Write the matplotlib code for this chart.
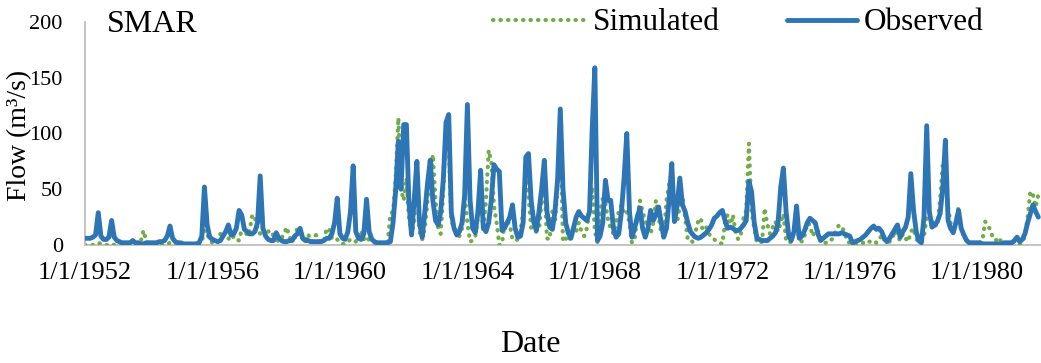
import matplotlib
matplotlib.use("Agg")
import matplotlib.pyplot as plt
import matplotlib.dates as mdates
import pandas as pd
from matplotlib.ticker import FuncFormatter

plt.rcParams["font.family"] = ["Liberation Serif", "DejaVu Serif"]

# Monthly flow (m3/s), one row per year, January to December
start_month = "1952-01-01"
observed = [
    [6, 6, 6, 7, 9, 29, 8, 5, 5, 7, 22, 7],            # 1952
    [4, 3, 2, 2, 2, 2, 4, 2, 2, 1, 1, 2],              # 1953
    [2, 2, 2, 2, 3, 3, 4, 8, 17, 6, 3, 2],             # 1954
    [2, 1, 1, 1, 1, 1, 1, 2, 8, 52, 18, 7],            # 1955
    [5, 4, 3, 4, 8, 12, 18, 9, 10, 15, 31, 27],        # 1956
    [14, 12, 10, 10, 12, 20, 62, 15, 8, 5, 4, 4],      # 1957
    [11, 6, 4, 3, 3, 4, 4, 8, 10, 15, 6, 4],           # 1958
    [4, 3, 3, 3, 3, 3, 4, 6, 6, 10, 20, 42],           # 1959
    [10, 6, 5, 12, 30, 71, 12, 6, 5, 10, 41, 12],      # 1960
    [5, 3, 2, 2, 2, 2, 2, 3, 20, 49, 93, 50],          # 1961
    [108, 108, 40, 9, 40, 75, 20, 7, 30, 55, 76, 40],  # 1962
    [22, 18, 30, 60, 110, 117, 29, 15, 9, 12, 20, 45], # 1963
    [126, 40, 15, 11, 30, 67, 16, 12, 20, 40, 72, 68], # 1964
    [66, 13, 15, 20, 25, 36, 15, 7, 8, 20, 79, 82],    # 1965
    [40, 20, 13, 30, 50, 76, 30, 16, 14, 30, 60, 122], # 1966
    [50, 20, 11, 6, 15, 25, 30, 26, 24, 22, 30, 103],  # 1967
    [159, 4, 8, 20, 58, 40, 40, 15, 7, 10, 30, 60],    # 1968
    [100, 30, 7, 15, 25, 33, 15, 7, 15, 31, 22, 27],   # 1969
    [34, 20, 7, 15, 40, 73, 21, 35, 60, 36, 30, 20],   # 1970
    [12, 9, 7, 6, 7, 9, 11, 14, 18, 24, 26, 29],       # 1971
    [31, 22, 15, 16, 15, 13, 13, 15, 18, 22, 57, 48],  # 1972
    [20, 6, 5, 4, 4, 4, 6, 8, 11, 20, 52, 69],         # 1973
    [30, 8, 4, 12, 35, 6, 8, 13, 20, 24, 22, 20],      # 1974
    [10, 4, 6, 8, 10, 10, 10, 10, 10, 11, 10, 9],      # 1975
    [8, 2, 3, 4, 5, 7, 9, 12, 15, 17, 14, 15],         # 1976
    [12, 6, 3, 6, 10, 14, 18, 7, 12, 16, 25, 64],      # 1977
    [31, 12, 4, 2, 25, 107, 30, 16, 18, 21, 28, 50],   # 1978
    [94, 22, 15, 11, 20, 31, 15, 9, 4, 2, 2, 2],       # 1979
    [2, 2, 1, 1, 1, 1, 1, 1, 1, 1, 2, 2],              # 1980
    [2, 2, 4, 7, 3, 5, 10, 20, 28, 36, 30, 25],        # 1981
]
simulated = [
    [0, 0, 0, 0, 1, 2, 1, 0, 0, 0, 1, 0],              # 1952
    [0, 0, 0, 0, 0, 0, 0, 0, 1, 3, 13, 4],             # 1953
    [1, 0, 0, 0, 0, 0, 1, 1, 2, 1, 0, 0],              # 1954
    [0, 0, 0, 0, 0, 0, 0, 1, 3, 13, 10, 4],            # 1955
    [2, 1, 3, 10, 13, 12, 6, 4, 8, 5, 4, 14],          # 1956
    [16, 8, 12, 27, 25, 14, 10, 16, 13, 12, 13, 8],    # 1957
    [5, 3, 6, 10, 16, 7, 4, 6, 16, 12, 5, 3],          # 1958
    [10, 4, 3, 9, 5, 2, 3, 15, 14, 6, 4, 5],           # 1959
    [2, 1, 1, 3, 5, 5, 3, 6, 13, 5, 8, 4],             # 1960
    [3, 2, 3, 2, 1, 1, 2, 28, 30, 60, 114, 50],        # 1961
    [40, 60, 25, 10, 20, 60, 12, 5, 15, 40, 60, 81],   # 1962
    [40, 15, 10, 50, 105, 90, 20, 18, 10, 8, 15, 45],  # 1963
    [20, 3, 4, 8, 25, 45, 12, 40, 85, 75, 35, 20],     # 1964
    [0, 1, 20, 22, 18, 5, 4, 5, 12, 30, 60, 45],       # 1965
    [15, 12, 12, 14, 40, 55, 6, 5, 30, 20, 55, 105],   # 1966
    [3, 6, 3, 8, 18, 12, 20, 12, 8, 15, 30, 52],       # 1967
    [12, 2, 30, 42, 38, 22, 15, 10, 20, 30, 36, 28],   # 1968
    [30, 20, 2, 5, 25, 40, 30, 22, 15, 10, 20, 40],    # 1969
    [25, 10, 8, 40, 55, 50, 30, 20, 35, 45, 25, 5],    # 1970
    [5, 2, 12, 22, 24, 6, 16, 10, 7, 5, 3, 2],         # 1971
    [1, 20, 27, 15, 27, 12, 5, 10, 25, 31, 91, 30],    # 1972
    [15, 2, 2, 3, 33, 18, 10, 16, 21, 12, 20, 28],     # 1973
    [4, 2, 3, 13, 15, 6, 3, 8, 20, 18, 8, 13],         # 1974
    [13, 6, 2, 2, 2, 4, 8, 14, 18, 16, 12, 3],         # 1975
    [2, 1, 1, 0, 1, 2, 1, 3, 3, 4, 2, 4],              # 1976
    [9, 4, 2, 3, 5, 13, 8, 4, 10, 6, 3, 12],           # 1977
    [15, 6, 2, 3, 8, 25, 28, 22, 16, 20, 40, 72],      # 1978
    [60, 34, 20, 13, 20, 34, 15, 8, 5, 2, 0, 1],       # 1979
    [1, 2, 4, 21, 18, 13, 6, 4, 7, 3, 2, 1],           # 1980
    [1, 2, 3, 1, 0, 2, 8, 25, 48, 45, 34, 45],         # 1981
]
y_ticks = [0, 50, 100, 150, 200]
station = "SMAR"

obs_flat = [v for row in observed for v in row]
sim_flat = [v for row in simulated for v in row]
dates = pd.date_range(start_month, periods=len(obs_flat), freq="MS")

W, H = 1041, 363
fig = plt.figure(figsize=(W / 100, H / 100), dpi=100)
ax = fig.add_axes([85 / W, 1 - 245 / H, (W - 85) / W, (245 - 22) / H])

blue = "#2E75B6"
green = "#70AD47"

sim_line, = ax.plot(dates, sim_flat, color=green, lw=3.0,
                    linestyle=(0, (0.1, 1.7)), dash_capstyle="round",
                    label="Simulated", zorder=2)
obs_line, = ax.plot(dates, obs_flat, color=blue, lw=3.5,
                    solid_joinstyle="round", solid_capstyle="round",
                    label="Observed", zorder=3)

ax.set_ylim(y_ticks[0], y_ticks[-1])
ax.set_yticks(y_ticks)
ax.set_xlim(pd.Timestamp("1952-01-01"), pd.Timestamp("1982-01-01"))
ax.xaxis.set_major_locator(mdates.YearLocator(4))


def fmt_date(x, pos):
    d = mdates.num2date(x)
    return f"{d.month}/{d.day}/{d.year}"


ax.xaxis.set_major_formatter(FuncFormatter(fmt_date))

for side in ("top", "right"):
    ax.spines[side].set_visible(False)
for side in ("left", "bottom"):
    ax.spines[side].set_color("#BFBFBF")
    ax.spines[side].set_linewidth(1.3)
ax.spines["bottom"].set_zorder(1)

ax.tick_params(axis="y", length=0, pad=16, labelsize=16)
ax.tick_params(axis="x", length=0, pad=12, labelsize=19)

fig.text(20 / W, 1 - 135 / H, "Flow (m³/s)", rotation=90,
         ha="center", va="center", fontsize=20)
fig.text(530 / W, 1 - 345 / H, "Date", ha="center", va="center", fontsize=23)
fig.text(107 / W, 1 - 24 / H, station, ha="left", va="center", fontsize=23)

leg1 = fig.legend(handles=[sim_line], loc="center left",
                  bbox_to_anchor=(493 / W, 1 - 23 / H), frameon=False,
                  fontsize=22.5, handlelength=3.0, handletextpad=0.2,
                  borderpad=0, borderaxespad=0)
leg2 = fig.legend(handles=[obs_line], loc="center left",
                  bbox_to_anchor=(787 / W, 1 - 23 / H), frameon=False,
                  fontsize=22.5, handlelength=2.25, handletextpad=0.2,
                  borderpad=0, borderaxespad=0)

fig.savefig("out.png", dpi=100)
